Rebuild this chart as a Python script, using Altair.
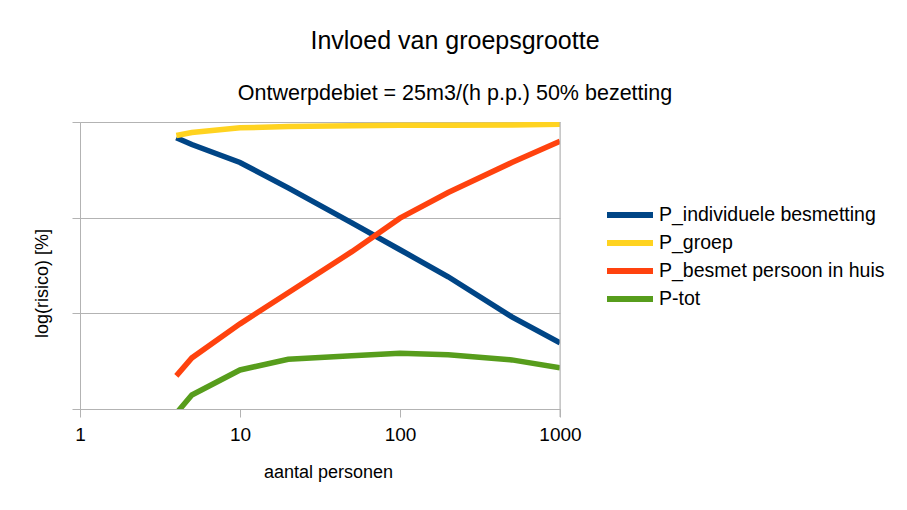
import altair as alt
import pandas as pd

# ---- data ----
n_personen = [4, 5, 10, 20, 50, 100, 200, 500, 1000]
p_individueel = [0.684, 0.581, 0.377, 0.205, 0.0881, 0.0462, 0.0241, 0.00918, 0.00491]
p_groep = [0.722, 0.776, 0.869, 0.897, 0.912, 0.925, 0.925, 0.930, 0.948]
p_besmet_huis = [0.00222, 0.00342, 0.00776, 0.0164, 0.0441, 0.0989, 0.183, 0.377, 0.630]
p_tot = [0.000902, 0.00140, 0.00256, 0.00331, 0.00361, 0.00383, 0.00368, 0.00326, 0.00269]

series = ["P_individuele besmetting", "P_groep", "P_besmet persoon in huis", "P-tot"]
colors = ["#004586", "#ffd320", "#ff420e", "#579d1c"]
x_ticks = [1, 10, 100, 1000]
y_grid = [0.001, 0.01, 0.1, 1]

rows = []
for name, vals in zip(series, [p_individueel, p_groep, p_besmet_huis, p_tot]):
    for n, v in zip(n_personen, vals):
        rows.append({"n": n, "p": v, "serie": name})
df = pd.DataFrame(rows)

FONT = "Liberation Sans"
GRAY = "#b3b3b3"

x_enc = alt.X(
    "n:Q",
    scale=alt.Scale(type="log", domain=[1, 1000], nice=False),
    axis=alt.Axis(
        values=x_ticks, format="d", grid=False, tickSize=8, tickColor=GRAY,
        domainColor=GRAY, labelFontSize=19, labelColor="black", labelFont=FONT,
        labelPadding=8, labelFlush=False, title="aantal personen", titleFontSize=18,
        titleFont=FONT, titleFontWeight="normal", titleColor="black",
        titleX=248, titleY=68, titleBaseline="alphabetic",
    ),
)

lines = alt.Chart(df).mark_line(strokeWidth=5.5, clip=True).encode(
    x=x_enc,
    y=alt.Y(
        "p:Q",
        scale=alt.Scale(type="log", domain=[0.001, 1], nice=False),
        axis=alt.Axis(
            values=y_grid, labels=False, tickSize=8, tickColor=GRAY, gridColor=GRAY,
            domainColor=GRAY, title="log(risico) [%]", titlePadding=20, titleY=161,
            titleFontSize=18, titleFont=FONT, titleFontWeight="normal", titleColor="black",
        ),
    ),
    color=alt.Color(
        "serie:N",
        scale=alt.Scale(domain=series, range=colors),
        legend=alt.Legend(
            orient="none", legendX=537, legendY=80, title=None,
            symbolType="M-2.3,0L2.3,0", symbolSize=400, symbolStrokeWidth=6,
            symbolFillColor="transparent",
            labelFontSize=19.5, labelFont=FONT, labelColor="black",
            labelLimit=400, labelOffset=16, rowPadding=3, padding=0,
        ),
    ),
)

border = alt.Chart(alt.Data(values=[{"n": 1000}])).mark_rule(color=GRAY, strokeWidth=1).encode(
    x="n:Q", y=alt.value(0), y2=alt.value(295)
)

chart = alt.layer(lines, border).properties(
    width=480,
    height=287,
    title=alt.TitleParams(
        text="Invloed van groepsgrootte",
        subtitle="Ontwerpdebiet = 25m3/(h p.p.) 50% bezetting",
        fontSize=25, subtitleFontSize=21.5, font=FONT, subtitleFont=FONT,
        fontWeight="normal", color="black", subtitleColor="black",
        anchor="middle", dx=135, offset=17, subtitlePadding=29,
    ),
    autosize=alt.AutoSizeParams(type="none"),
    padding={"left": 72, "top": 114, "right": 331, "bottom": 80},
).configure_view(stroke=None).configure(font=FONT)

chart.save("out.html", embed_options={"renderer": "svg", "actions": False})
